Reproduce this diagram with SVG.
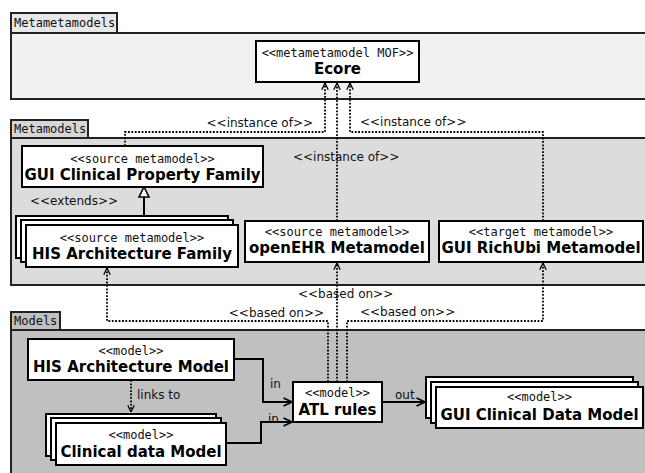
<svg xmlns="http://www.w3.org/2000/svg" width="645" height="473" viewBox="0 0 645 473">
<style>
.pkg{stroke:#222;stroke-width:2}
.box{fill:#fff;stroke:#000;stroke-width:2}
.mono{font-family:"DejaVu Sans Mono","Liberation Mono",monospace;font-size:12px;fill:#111}
.st{font-family:"DejaVu Sans Mono","Liberation Mono",monospace;font-size:12px;fill:#111;text-anchor:middle}
.tt{font-family:"DejaVu Sans","Liberation Sans",sans-serif;font-size:15px;font-weight:bold;fill:#000;text-anchor:middle}
.lbl{font-family:"DejaVu Sans","Liberation Sans",sans-serif;font-size:12px;fill:#111}
.dot{fill:none;stroke:#000;stroke-width:1.8;stroke-dasharray:1.8 1.6}
.sol{fill:none;stroke:#000;stroke-width:2}
</style>
<defs>
<marker id="open" viewBox="0 0 10 10" refX="9.5" refY="5" markerWidth="8" markerHeight="8" markerUnits="userSpaceOnUse" orient="auto">
<path d="M1,1 L9.5,5 L1,9" fill="none" stroke="#000" stroke-width="1.6"/>
</marker>
<marker id="openL" viewBox="0 0 10 10" refX="9.5" refY="5" markerWidth="10" markerHeight="10" markerUnits="userSpaceOnUse" orient="auto">
<path d="M1,1 L9.5,5 L1,9" fill="none" stroke="#000" stroke-width="1.6"/>
</marker>
</defs>
<rect width="645" height="473" fill="#fff"/>

<g id="pkg-metametamodels">
<rect class="pkg" x="11" y="33" width="650" height="66" fill="#f1f1f1"/>
<rect class="pkg" x="11" y="13" width="106" height="20" fill="#e8e8e8"/>
<text class="mono" x="14" y="27">Metametamodels</text>
</g>
<g id="pkg-metamodels">
<rect class="pkg" x="11" y="138" width="650" height="147" fill="#dcdcdc"/>
<rect class="pkg" x="11" y="120" width="77" height="18" fill="#d6d6d6"/>
<text class="mono" x="14" y="133">Metamodels</text>
</g>
<g id="pkg-models">
<rect class="pkg" x="11" y="330" width="650" height="160" fill="#c0c0c0"/>
<rect class="pkg" x="11" y="312" width="49" height="18" fill="#c0c0c0"/>
<text class="mono" x="14" y="325">Models</text>
</g>

<g id="connectors">
<path class="dot" d="M125,146 V132 H325 V83" marker-end="url(#open)"/>
<path class="dot" d="M337,221 V83" marker-end="url(#open)"/>
<path class="dot" d="M543,221 V132 H350 V83" marker-end="url(#open)"/>
<path class="dot" d="M328,382 V321 H107 V268" marker-end="url(#open)"/>
<path class="dot" d="M337,382 V263" marker-end="url(#open)"/>
<path class="dot" d="M347,382 V321 H543 V263" marker-end="url(#open)"/>
<path class="dot" d="M131,380 V412" marker-end="url(#open)"/>
<path class="sol" d="M144,216 V197"/>
<polygon points="139,197 149,197 144,187" fill="#fff" stroke="#000" stroke-width="1.6"/>
<path class="sol" d="M234,359 H263 V402 H292" marker-end="url(#openL)"/>
<path class="sol" d="M226,443 H261 V422 H292" marker-end="url(#openL)"/>
<path class="sol" d="M382,402 H425" marker-end="url(#openL)"/>
<text class="lbl" x="313" y="127" text-anchor="end">&lt;&lt;instance of&gt;&gt;</text>
<text class="lbl" x="293" y="161">&lt;&lt;instance of&gt;&gt;</text>
<text class="lbl" x="360" y="126">&lt;&lt;instance of&gt;&gt;</text>
<text class="lbl" x="298" y="298">&lt;&lt;based on&gt;&gt;</text>
<text class="lbl" x="324" y="317" text-anchor="end">&lt;&lt;based on&gt;&gt;</text>
<text class="lbl" x="360" y="316">&lt;&lt;based on&gt;&gt;</text>
<text class="lbl" x="30" y="205">&lt;&lt;extends&gt;&gt;</text>
<text class="lbl" x="137" y="399">links to</text>
<text class="lbl" x="270" y="388">in</text>
<text class="lbl" x="268" y="423">in</text>
<text class="lbl" x="395" y="399">out</text>
</g>

<g id="ecore">
<rect class="box" x="256" y="41" width="163" height="41"/>
<text class="st" x="337.5" y="57">&lt;&lt;metametamodel MOF&gt;&gt;</text>
<text class="tt" x="337.5" y="74">Ecore</text>
</g>
<g id="gui-clinical-property-family">
<rect class="box" x="22" y="146" width="241" height="41"/>
<text class="st" x="142.5" y="163">&lt;&lt;source metamodel&gt;&gt;</text>
<text class="tt" x="142.5" y="180">GUI Clinical Property Family</text>
</g>
<g id="his-architecture-family">
<rect class="box" x="16" y="216" width="212" height="42"/>
<rect class="box" x="21" y="220" width="212" height="42"/>
<rect class="box" x="26" y="225" width="212" height="42"/>
<text class="st" x="132" y="242">&lt;&lt;source metamodel&gt;&gt;</text>
<text class="tt" x="132" y="259">HIS Architecture Family</text>
</g>
<g id="openehr-metamodel">
<rect class="box" x="245" y="221" width="184" height="41"/>
<text class="st" x="337" y="236">&lt;&lt;source metamodel&gt;&gt;</text>
<text class="tt" x="337" y="253">openEHR Metamodel</text>
</g>
<g id="gui-richubi-metamodel">
<rect class="box" x="439" y="221" width="204" height="41"/>
<text class="st" x="541" y="236">&lt;&lt;target metamodel&gt;&gt;</text>
<text class="tt" x="541" y="253">GUI RichUbi Metamodel</text>
</g>
<g id="his-architecture-model">
<rect class="box" x="28" y="339" width="206" height="41"/>
<text class="st" x="131" y="355">&lt;&lt;model&gt;&gt;</text>
<text class="tt" x="131" y="372">HIS Architecture Model</text>
</g>
<g id="clinical-data-model">
<rect class="box" x="46" y="414" width="170" height="42"/>
<rect class="box" x="51" y="418" width="170" height="42"/>
<rect class="box" x="56" y="423" width="170" height="42"/>
<text class="st" x="141" y="439">&lt;&lt;model&gt;&gt;</text>
<text class="tt" x="141" y="457">Clinical data Model</text>
</g>
<g id="atl-rules">
<rect class="box" x="293" y="382" width="89" height="40"/>
<text class="st" x="337.5" y="397">&lt;&lt;model&gt;&gt;</text>
<text class="tt" x="337.5" y="415">ATL rules</text>
</g>
<g id="gui-clinical-data-model">
<rect class="box" x="426" y="377" width="207" height="41"/>
<rect class="box" x="431" y="382" width="207" height="41"/>
<rect class="box" x="436" y="387" width="207" height="41"/>
<text class="st" x="539.5" y="401">&lt;&lt;model&gt;&gt;</text>
<text class="tt" x="539.5" y="420">GUI Clinical Data Model</text>
</g>
</svg>
